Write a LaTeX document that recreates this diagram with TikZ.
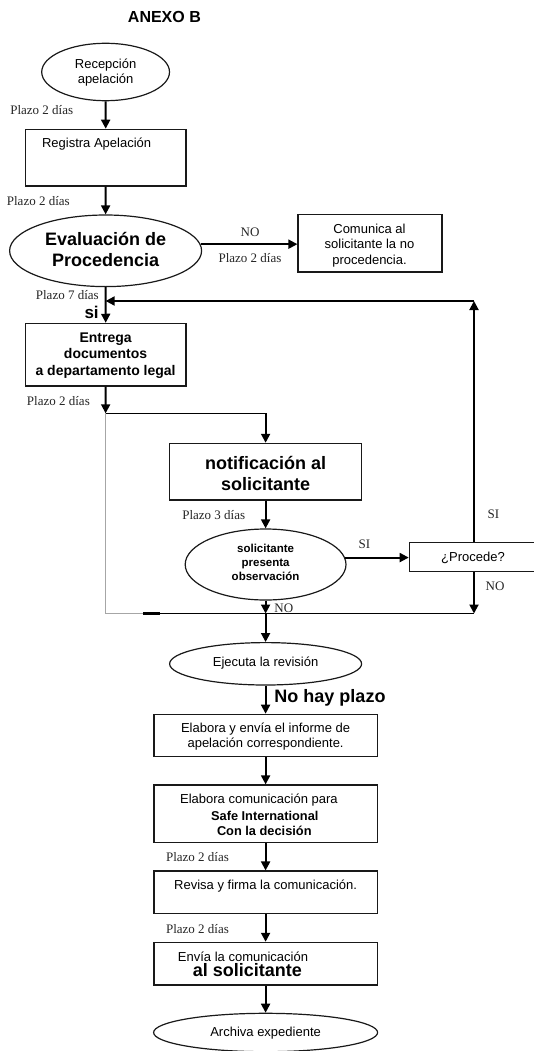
\documentclass[tikz,border=0pt]{standalone}
\usepackage{fontspec}
\setmainfont{Liberation Sans}
\newfontfamily\tms{Liberation Serif}
\usetikzlibrary{arrows.meta,shapes.geometric}
\begin{document}
\begin{tikzpicture}[x=1pt,y=-1pt,
  box/.style={draw=black!90,line width=1.2pt,rectangle,inner sep=0pt},
  oval/.style={draw=black!90,line width=1.2pt,ellipse,inner sep=0pt},
  arr/.style={line width=1.9pt,-{Triangle[length=9pt,width=9pt]}},
  t13/.style={font=\fontsize{13}{15.3}\selectfont,align=center,inner sep=0pt},
  b13/.style={font=\fontsize{12.8}{15}\selectfont\bfseries,align=center,inner sep=0pt},
  b14/.style={font=\fontsize{14}{16.4}\selectfont\bfseries,align=center,inner sep=0pt},
  b18/.style={font=\fontsize{18}{21}\selectfont\bfseries,align=center,inner sep=0pt},
  bsm/.style={font=\fontsize{11.5}{13.9}\selectfont\bfseries,align=center,inner sep=0pt},
  tm/.style={font=\tms\fontsize{13}{15}\selectfont,text=black!85,inner sep=0pt},
]
\useasboundingbox (0,0) rectangle (534,1051);
\fill[white] (0,0) rectangle (534,1051);

% title
\node[font=\fontsize{16}{18}\selectfont\bfseries,inner sep=0pt] (title) at (164.4,17) {ANEXO B};

% column A
\node[oval,minimum width=127.8pt,minimum height=57.4pt] (e1) at (105.6,72) {};
\node[t13] (e1t) at (105.6,72.5) {Recepción\\apelación};

\node[box,minimum width=160.5pt,minimum height=56.7pt] (b1) at (105.7,157.65) {};
\node[t13] (b1t) at (96.6,144) {Registra Apelación};

\node[oval,minimum width=192pt,minimum height=71.6pt] (e2) at (105.6,250.8) {};
\node[b18] (e2t) at (105.6,249.6) {Evaluación de\\Procedencia};

\node[box,minimum width=144pt,minimum height=57.7pt] (c1) at (370,243.2) {};
\node[t13] (c1t) at (369.5,245.5) {Comunica al\\solicitante la no\\procedencia.};

\node[box,minimum width=160.5pt,minimum height=62.7pt] (b2) at (105.7,354.7) {};
\node[b14] (b2t) at (105.6,355.3) {Entrega\\documentos\\a departamento legal};

% column B
\node[box,minimum width=192pt,minimum height=56.7pt] (b3) at (265.6,471.7) {};
\node[b18] (b3t) at (265.6,473.3) {notificación al\\solicitante};

\node[oval,minimum width=160.8pt,minimum height=71pt] (e3) at (265.6,564.5) {};
\node[bsm] (e3t) at (265.6,562.2) {solicitante\\presenta\\observación};

\node[box,minimum width=126.7pt,minimum height=29pt] (p) at (472.65,557.2) {};
\node[t13] (pt) at (473,558.3) {¿Procede?};

\node[oval,minimum width=192pt,minimum height=42.4pt] (e4) at (265.6,663.8) {};
\node[t13] (e4t) at (265.6,662.7) {Ejecuta la revisión};

\node[box,minimum width=223.4pt,minimum height=42.4pt] (b4) at (265.6,735.5) {};
\node[t13] (b4t) at (265.6,736.8) {Elabora y envía el informe de\\apelación correspondiente.};

\node[box,minimum width=223.4pt,minimum height=57.7pt] (b5) at (265.6,813.8) {};
\node[t13] (b5a) at (258.9,800) {Elabora comunicación para};
\node[b13] (b5b) at (264.8,816) {Safe International};
\node[b13] (b5c) at (264.3,831) {Con la decisión};

\node[box,minimum width=223.4pt,minimum height=42.3pt] (b6) at (265.6,892.2) {};
\node[t13] (b6t) at (265.6,886) {Revisa y firma la comunicación.};

\node[box,minimum width=223.4pt,minimum height=42.7pt] (b7) at (265.6,963.7) {};
\node[t13] (b7a) at (243,956.7) {Envía la comunicación};
\node[b18] (b7b) at (247.3,970) {al solicitante};

\node[oval,minimum width=224pt,minimum height=38.4pt] (e5) at (265.6,1032.5) {};
\node[t13] (e5t) at (265.6,1032.7) {Archiva expediente};

% coordinates
\coordinate (fb) at (474,301);
\coordinate (fa) at (105.6,301);
\coordinate (j1) at (105.6,413.3);
\coordinate (j1b) at (265.6,413.3);
\coordinate (gl) at (105.6,613.5);
\coordinate (gr) at (150,613.5);
\coordinate (k0) at (143,613.5);
\coordinate (k1) at (160,613.5);
\coordinate (j2) at (265.6,613.5);
\coordinate (j3) at (474,613.5);

% connectors
\draw[arr] (e1.south) -- (b1.north);
\draw[arr] (b1.south) -- (e2.north);
\draw[arr] (e2.4.6) -- (e2.4.6 -| c1.west);
\draw[arr] (e2.south) -- (b2.north);
\draw[arr] (b2.south) -- (j1);
\draw[line width=1.4pt] (j1) -- (j1b);
\draw[arr] (j1b) -- (b3.north);
\draw[gray!70,line width=0.9pt] (j1) -- (gl) -- (gr);
\draw[arr] (b3.south) -- (e3.north);
\draw[arr] (e3.5.7) -- (e3.5.7 -| p.west);
\draw[arr] (p.north -| fb) -- (fb);
\draw[arr] (fb) -- (fa);
\draw[arr] (p.south -| j3) -- (j3);
\draw[line width=1.4pt] (k0) -- (j3);
\draw[line width=2.2pt] (k0) -- (k1);
\draw[arr] (e3.south) -- (j2);
\draw[arr] (j2) -- (e4.north);
\draw[arr] (e4.south) -- (b4.north);
\draw[arr] (b4.south) -- (b5.north);
\draw[arr] (b5.south) -- (b6.north);
\draw[arr] (b6.south) -- (b7.north);
\draw[arr] (b7.south) -- (e5.north);

% labels
\node[tm] (l1) at (41.7,110) {Plazo 2 días};
\node[tm] (l2) at (38.3,201) {Plazo 2 días};
\node[tm] (no1) at (250,232.7) {NO};
\node[tm] (l3) at (250,258.3) {Plazo 2 días};
\node[tm] (l4) at (67.3,295.3) {Plazo 7 días};
\node[font=\fontsize{17}{17}\selectfont\bfseries,inner sep=0pt] (si1) at (91.6,312.7) {si};
\node[tm] (l5) at (58.4,400.7) {Plazo 2 días};
\node[tm] (l6) at (213.7,515) {Plazo 3 días};
\node[tm] (si2) at (364.4,544.3) {SI};
\node[tm] (si3) at (493.3,514) {SI};
\node[tm] (no2) at (495,586) {NO};
\node[tm] (no3) at (283.8,608.3) {NO};
\node[b18] (nh) at (330,698.3) {No hay plazo};
\node[tm] (l7) at (197.5,856.7) {Plazo 2 días};
\node[tm] (l8) at (197.5,929) {Plazo 2 días};
\end{tikzpicture}
\end{document}
